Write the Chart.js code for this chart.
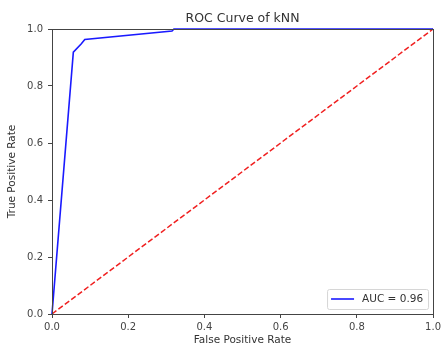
<!DOCTYPE html>
<html>
<head>
<meta charset="utf-8">
<script src="https://cdn.jsdelivr.net/npm/chart.js@4/dist/chart.umd.min.js"></script>
<style>
  body { margin: 0; background: #fff; }
  canvas { display: block; }
</style>
</head>
<body>
<canvas id="roc" width="444" height="347"></canvas>
<script>
// ROC curve points
const fpr = [0, 0.056, 0.077, 0.086, 0.315, 0.32, 1.0];
const tpr = [0, 0.919, 0.948, 0.963, 0.993, 1.0, 1.0];
// chance diagonal
const chanceX = [0, 1];
const chanceY = [0, 1];
const tickValues = [0, 0.2, 0.4, 0.6, 0.8, 1.0];
const aucLabel = 'AUC = 0.96';
const chartTitle = 'ROC Curve of kNN';

(function () {
    const FONT = 'DejaVu Sans';
    const AXIS = '#444';

    // marco completo alrededor del area (como matplotlib)
    const frame = {
        id: 'frame',
        afterDatasetsDraw(chart) {
            const a = chart.chartArea, ctx = chart.ctx;
            ctx.save();
            ctx.strokeStyle = AXIS;
            ctx.lineWidth = 1;
            ctx.strokeRect(Math.round(a.left) + 0.5, Math.round(a.top) + 0.5,
                Math.round(a.right - a.left), Math.round(a.bottom - a.top));
            ctx.restore();
        },
        afterDraw(chart) {
            const a = chart.chartArea, ctx = chart.ctx;
            ctx.save();
            // titulo centrado sobre el area de trazado
            ctx.fillStyle = '#333';
            ctx.font = '12.5px "' + FONT + '"';
            ctx.textAlign = 'center';
            ctx.textBaseline = 'middle';
            ctx.fillText(chartTitle, (a.left + a.right) / 2, 19);

            // leyenda abajo a la derecha
            const ds = chart.data.datasets[0];
            const x0 = a.right - 106, y0 = a.bottom - 25, w = 101, h = 20;
            ctx.fillStyle = 'rgba(255,255,255,0.85)';
            ctx.strokeStyle = '#d6d6d6';
            ctx.lineWidth = 1;
            ctx.beginPath();
            ctx.roundRect(x0 + 0.5, y0 + 0.5, w, h, 2);
            ctx.fill();
            ctx.stroke();
            ctx.strokeStyle = ds.borderColor;
            ctx.lineWidth = ds.borderWidth;
            ctx.beginPath();
            ctx.moveTo(x0 + 4, y0 + 10);
            ctx.lineTo(x0 + 27, y0 + 10);
            ctx.stroke();
            ctx.fillStyle = '#333';
            ctx.font = '10.5px "' + FONT + '"';
            ctx.textAlign = 'left';
            ctx.fillText(ds.label, x0 + 35, y0 + 10.5);
            ctx.restore();
        }
    };

    const axis = (titleText, isX) => ({
        type: 'linear',
        min: 0,
        max: 1,
        afterBuildTicks: s => { s.ticks = tickValues.map(v => ({ value: v })); },
        afterFit: s => { if (isX) s.height = 33; else s.width = 52; },
        ticks: {
            callback: v => Number(v).toFixed(1),
            font: { family: FONT, size: 10 },
            color: '#444',
            padding: isX ? 3 : 5,
            maxRotation: 0,
            autoSkip: false
        },
        grid: { drawOnChartArea: false, drawTicks: true, tickLength: 4, color: AXIS },
        border: { display: false },
        title: {
            display: true,
            text: titleText,
            font: { family: FONT, size: 10.5 },
            color: '#333',
            padding: isX ? { top: 0, bottom: 0 } : { top: 6, bottom: 0 }
        }
    });

    const ctx = document.getElementById('roc').getContext('2d');
    new Chart(ctx, {
        type: 'scatter',
        data: {
            datasets: [{
                label: aucLabel,
                data: fpr.map((x, i) => ({ x: x, y: tpr[i] })),
                showLine: true,
                borderColor: '#1a1aff',
                borderWidth: 1.6,
                pointRadius: 0,
                tension: 0,
                clip: 3
            }, {
                label: 'chance',
                data: chanceX.map((x, i) => ({ x: x, y: chanceY[i] })),
                showLine: true,
                borderColor: '#f02020',
                borderWidth: 1.5,
                borderDash: [5.5, 2.5],
                pointRadius: 0,
                clip: 3
            }]
        },
        options: {
            responsive: false,
            animation: false,
            layout: { padding: { top: 29, right: 8, left: 0, bottom: 0 } },
            plugins: {
                legend: { display: false },
                title: { display: false },
                tooltip: { enabled: false }
            },
            scales: {
                x: axis('False Positive Rate', true),
                y: axis('True Positive Rate', false)
            }
        },
        plugins: [frame]
    });
})();
</script>
</body>
</html>
